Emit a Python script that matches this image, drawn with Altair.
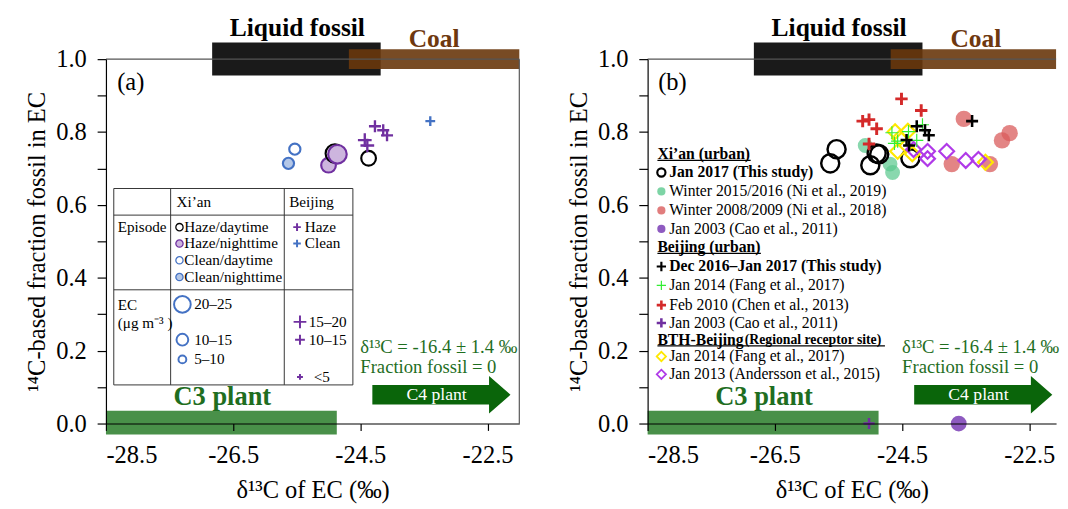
import altair as alt
import pandas as pd

FONT = "Liberation Serif"

# ---------------- data ----------------
# Xi'an, Jan 2017 (this study)
xian17_d13c = [-25.53, -25.63, -25.00, -24.90, -24.86, -24.37]
xian17_fossil = [0.753, 0.714, 0.709, 0.741, 0.739, 0.728]
xian17_episode = ["Clean/daytime", "Clean/nighttime", "Haze/nighttime",
                  "Haze/daytime", "Haze/nighttime", "Haze/daytime"]
xian17_ec = ["5–10", "5–10", "10–15", "20–25", "20–25", "10–15"]

# Beijing, Dec 2016 – Jan 2017 (this study)
bj17_d13c = [-23.40, -24.27, -24.14, -24.08, -24.43, -24.39]
bj17_fossil = [0.830, 0.816, 0.805, 0.791, 0.778, 0.763]
bj17_episode = ["Clean", "Haze", "Haze", "Haze", "Haze", "Haze"]
bj17_ec = ["<5", "10–15", "10–15", "10–15", "15–20", "15–20"]

# literature values (panel b)
ni2019_d13c = [-25.08, -24.69, -24.65]
ni2019_fossil = [0.763, 0.712, 0.689]
ni2018_d13c = [-23.53, -22.81, -22.93, -23.72, -23.12]
ni2018_fossil = [0.836, 0.797, 0.777, 0.712, 0.712]
cao_xian_d13c = [-23.61]
cao_xian_fossil = [0.0]
fang_bj_d13c = [-24.18, -24.40, -24.57, -24.27, -24.66, -24.62]
fang_bj_fossil = [0.820, 0.801, 0.775, 0.777, 0.798, 0.769]
chen_d13c = [-24.51, -24.20, -25.12, -25.02, -24.90, -25.02]
chen_fossil = [0.891, 0.859, 0.830, 0.834, 0.809, 0.767]
cao_bj_d13c = [-25.02]
cao_bj_fossil = [0.0]
fang_bth_d13c = [-24.61, -24.41, -24.54, -24.57, -24.34, -23.19]
fang_bth_fossil = [0.801, 0.802, 0.783, 0.747, 0.740, 0.717]
andersson_d13c = [-24.32, -24.10, -24.10, -23.80, -23.50, -23.30]
andersson_fossil = [0.752, 0.747, 0.727, 0.747, 0.722, 0.725]

# source end-member ranges (δ13C)
liquid_range = [-26.83, -24.18]
coal_start = -24.68
c3_range = [-28.5, -24.87]
c4_arrow_center = -23.225

x_ticks = [-28.5, -26.5, -24.5, -22.5]
y_ticks = [round(i * 0.1, 1) for i in range(11)]

# ---------------- styles ----------------
BLACK = "#000000"
PURPLE = "#7030A0"
PURPLE_FILL = "#CDB5DE"
BLUE = "#4472C4"
BLUE_FILL = "#B4C7E7"
GREEN_DOT = "#5CC98F"
RED_DOT = "#D95C5C"
PURPLE_DOT = "#8E5AC0"
RED_PLUS = "#D42A2A"
GREEN_PLUS = "#33EE33"
YELLOW = "#FFE800"
VIOLET = "#B03AE8"
TEXT_GREEN = "#1F6E1F"
C3_GREEN = "#3A873A"
C4_GREEN = "#0A650A"
COAL = "#69370C"
COAL_TEXT = "#6E380F"

PLUS = "M -1 0 L 1 0 M 0 -1 L 0 1"
ARROW = "M -1 -0.14 L 0.69 -0.14 L 0.69 -0.27 L 1 0 L 0.69 0.27 L 0.69 0.14 L -1 0.14 Z"

circle_size_a = {"20–25": 360, "10–15": 225, "5–10": 130}
plus_size_a = {"15–20": 196, "10–15": 150, "<5": 100}
episode_style = {
    "Haze/daytime": (BLACK, None),
    "Haze/nighttime": (PURPLE, PURPLE_FILL),
    "Clean/daytime": (BLUE, None),
    "Clean/nighttime": (BLUE, BLUE_FILL),
}
bj_color = {"Haze": PURPLE, "Clean": BLUE}

XT = "δ¹³C of EC (‰)"
YT = "¹⁴C-based fraction fossil in EC"

AX_X = alt.Axis(values=x_ticks, labelExpr="'' + datum.value", tickSize=7,
                labelPadding=13, titlePadding=11, zindex=1)
AX_Y = alt.Axis(values=y_ticks, tickSize=9, labelPadding=11, titlePadding=6, zindex=1,
                labelExpr="round(datum.value*10) % 2 == 0 ? format(datum.value, '.1f') : ''")
YS = alt.Scale(domain=[0, 1], nice=False, zero=False)


def X(xmax):
    return alt.X("x:Q", scale=alt.Scale(domain=[-28.5, xmax], nice=False, zero=False),
                 axis=AX_X, title=XT)


def Y():
    return alt.Y("y:Q", scale=YS, axis=AX_Y, title=YT)


def points(xmax, xv, yv, shape, size, stroke, fill=None, sw=2.0, opacity=1.0):
    df = pd.DataFrame({"x": xv, "y": yv})
    props = dict(shape=shape, strokeWidth=sw, opacity=opacity, stroke=stroke)
    if fill is None:
        props.update(filled=False, color=stroke)
    else:
        props.update(filled=True, fill=fill)
    enc = dict(x=X(xmax), y=Y())
    if isinstance(size, list):
        df["s"] = size
        enc["size"] = alt.Size("s:Q", scale=None, legend=None)
    else:
        props["size"] = size
    return alt.Chart(df).mark_point(**props).encode(**enc)


def texts(xmax, xv, yv, labels, size, color=BLACK, weight="normal", align="left"):
    df = pd.DataFrame({"x": xv, "y": yv, "t": labels})
    return alt.Chart(df).mark_text(font=FONT, fontSize=size, color=color, fontWeight=weight,
                                   align=align, baseline="middle").encode(
        x=X(xmax), y=Y(), text="t:N")


def segs(xmax, x1, x2, y1, y2, color="#222222", sw=1.0):
    df = pd.DataFrame({"x": x1, "x2": x2, "y": y1, "y2": y2})
    return alt.Chart(df).mark_rule(color=color, strokeWidth=sw).encode(
        x=X(xmax), x2="x2:Q", y=Y(), y2="y2:Q")


def band(xmax, x1, x2, y1, y2, color, opacity=1.0):
    df = pd.DataFrame({"x": [x1], "x2": [x2], "y": [y1], "y2": [y2]})
    return alt.Chart(df).mark_rect(color=color, opacity=opacity).encode(
        x=X(xmax), x2="x2:Q", y=Y(), y2="y2:Q")


def common_layers(xmax, letter):
    return [
        band(xmax, c3_range[0], c3_range[1], -0.03, 0.035, C3_GREEN, 0.92),
        band(xmax, liquid_range[0], liquid_range[1], 0.955, 1.046, "#1a1a1a"),
        band(xmax, coal_start, xmax, 0.973, 1.027, COAL, 0.9),
        segs(xmax, [-28.5], [xmax], [1.0], [1.0], "#555555", 1.2),
        texts(xmax, [-25.49], [1.086], ["Liquid fossil"], 26, BLACK, "bold", "center"),
        texts(xmax, [-23.34], [1.054], ["Coal"], 26, COAL_TEXT, "bold", "center"),
        texts(xmax, [-26.67], [0.072], ["C3 plant"], 27, TEXT_GREEN, "bold", "center"),
        texts(xmax, [-24.50, -24.50], [0.209, 0.154],
              ["δ¹³C = -16.4 ± 1.4 ‰", "Fraction fossil = 0"], 19, TEXT_GREEN),
        points(xmax, [c4_arrow_center], [0.079], ARROW, 19881, C4_GREEN, C4_GREEN, 0),
        texts(xmax, [-23.30], [0.078], ["C4 plant"], 18, "white", "normal", "center"),
        texts(xmax, [-28.11], [0.938], [f"({letter})"], 25, BLACK, "normal", "center"),
    ]


# ---------------- panel (a) ----------------
XA = -22.0
la = common_layers(XA, "a")
la.append(segs(XA, [XA], [XA], [0.0], [1.0], "#555555", 1.2))

# legend table
tx = [-28.377, -27.483, -25.696, -24.617]
ty = [0.645, 0.572, 0.367, 0.106]
la.append(segs(XA, [tx[0], tx[0], tx[0], tx[0], tx[0], tx[3], tx[1], tx[2]],
               [tx[3], tx[3], tx[3], tx[3], tx[0], tx[3], tx[1], tx[2]],
               [ty[0], ty[1], ty[2], ty[3], ty[3], ty[3], ty[3], ty[3]],
               [ty[0], ty[1], ty[2], ty[3], ty[0], ty[0], ty[0], ty[0]], "#333333", 1.0))
la.append(texts(XA, [-27.391, -25.619, -28.315, -28.315, -28.315],
                [0.607, 0.607, 0.539, 0.324, 0.276],
                ["Xi’an", "Beijing", "Episode", "EC", "(μg m⁻³ )"], 15.5))
ep_names = ["Haze/daytime", "Haze/nighttime", "Clean/daytime", "Clean/nighttime"]
ep_y = [0.539, 0.494, 0.448, 0.402]
for name, yy in zip(ep_names, ep_y):
    st, fi = episode_style[name]
    la.append(points(XA, [-27.344], [yy], "circle", 55, st, fi, 1.3))
la.append(texts(XA, [-27.267] * 4, ep_y, ep_names, 15.5))
la.append(points(XA, [-25.495], [0.539], PLUS, 60, PURPLE, None, 2))
la.append(points(XA, [-25.495], [0.494], PLUS, 60, BLUE, None, 2))
la.append(texts(XA, [-25.372, -25.372], [0.539, 0.494], ["Haze", "Clean"], 15.5))
la.append(points(XA, [-27.298] * 3, [0.327, 0.230, 0.176], "circle", [289, 144, 64], BLUE, None, 2))
la.append(texts(XA, [-27.113] * 3, [0.327, 0.230, 0.176], ["20–25", "10–15", "5–10"], 15.5))
la.append(points(XA, [-25.449] * 3, [0.279, 0.230, 0.128], PLUS, [169, 100, 36], PURPLE, None, 2))
la.append(texts(XA, [-25.311, -25.311, -25.233], [0.279, 0.230, 0.128], ["15–20", "10–15", "<5"], 15.5))

# data (a)
for i in range(len(xian17_d13c)):
    st, fi = episode_style[xian17_episode[i]]
    la.append(points(XA, [xian17_d13c[i]], [xian17_fossil[i]], "circle",
                     circle_size_a[xian17_ec[i]], st, fi, 2.2))
for i in range(len(bj17_d13c)):
    la.append(points(XA, [bj17_d13c[i]], [bj17_fossil[i]], PLUS,
                     plus_size_a[bj17_ec[i]], bj_color[bj17_episode[i]], None, 2.4))

panel_a = alt.layer(*la).properties(width=422, height=372)

# ---------------- panel (b) ----------------
XB = -22.08
lb = common_layers(XB, "b")

lb.append(points(XB, ni2019_d13c, ni2019_fossil, "circle", 230, GREEN_DOT, GREEN_DOT, 0, 0.72))
lb.append(points(XB, ni2018_d13c, ni2018_fossil, "circle", 280, RED_DOT, RED_DOT, 0, 0.75))
lb.append(points(XB, cao_xian_d13c, cao_xian_fossil, "circle", 260, PURPLE_DOT, PURPLE_DOT, 0))
lb.append(points(XB, xian17_d13c, xian17_fossil, "circle", 340, BLACK, None, 2.5))
lb.append(points(XB, fang_bth_d13c, fang_bth_fossil, "diamond", 230, YELLOW, None, 2.2))
lb.append(points(XB, andersson_d13c, andersson_fossil, "diamond", 230, VIOLET, None, 2.2))
lb.append(points(XB, chen_d13c, chen_fossil, PLUS, 160, RED_PLUS, None, 3))
lb.append(points(XB, fang_bj_d13c, fang_bj_fossil, PLUS, 180, GREEN_PLUS, None, 1.2))
lb.append(points(XB, bj17_d13c, bj17_fossil, PLUS, 150, BLACK, None, 2.6))
lb.append(points(XB, cao_bj_d13c, cao_bj_fossil, PLUS, 130, PURPLE, None, 2.6))

# legend (b)
hx = -28.346
sx = -28.284
lx = -28.161
lb.append(texts(XB, [hx, hx, hx], [0.739, 0.485, 0.229],
                ["Xi’an (urban)", "Beijing (urban)", "BTH-Beijing"], 16, BLACK, "bold"))
lb.append(texts(XB, [-26.973], [0.229], ["(Regional receptor site)"], 14, BLACK, "bold"))
lb.append(segs(XB, [hx, hx, hx], [-26.88, -26.72, -24.77], [0.722, 0.467, 0.213],
               [0.722, 0.467, 0.213], BLACK, 1.2))
lb.append(texts(XB, [lx, lx], [0.689, 0.431],
                ["Jan 2017 (This study)", "Dec 2016–Jan 2017 (This study)"], 16, BLACK, "bold"))
lb.append(texts(XB, [lx] * 8, [0.637, 0.585, 0.534, 0.379, 0.325, 0.276, 0.184, 0.135],
                ["Winter 2015/2016 (Ni et al., 2019)", "Winter 2008/2009 (Ni et al., 2018)",
                 "Jan 2003 (Cao et al., 2011)", "Jan 2014 (Fang et al., 2017)",
                 "Feb 2010 (Chen et al., 2013)", "Jan 2003 (Cao et al., 2011)",
                 "Jan 2014 (Fang  et al., 2017)", "Jan 2013 (Andersson et al., 2015)"], 16))
lb.append(points(XB, [sx], [0.689], "circle", 70, BLACK, None, 2.2))
lb.append(points(XB, [sx], [0.637], "circle", 70, GREEN_DOT, GREEN_DOT, 0, 0.8))
lb.append(points(XB, [sx], [0.585], "circle", 70, RED_DOT, RED_DOT, 0, 0.8))
lb.append(points(XB, [sx], [0.534], "circle", 70, PURPLE_DOT, PURPLE_DOT, 0))
lb.append(points(XB, [sx], [0.431], PLUS, 90, BLACK, None, 2.2))
lb.append(points(XB, [sx], [0.379], PLUS, 90, GREEN_PLUS, None, 1.2))
lb.append(points(XB, [sx], [0.325], PLUS, 90, RED_PLUS, None, 2.6))
lb.append(points(XB, [sx], [0.276], PLUS, 90, PURPLE, None, 2.6))
lb.append(points(XB, [sx], [0.184], "diamond", 90, YELLOW, None, 1.8))
lb.append(points(XB, [sx], [0.135], "diamond", 90, VIOLET, None, 1.8))

panel_b = alt.layer(*lb).properties(width=417, height=372)

chart = alt.hconcat(panel_a, panel_b, spacing=47).properties(
    padding={"left": 17, "top": 2, "right": 0, "bottom": 0}
).configure_view(stroke=None).configure_axis(
    labelFont=FONT, titleFont=FONT, labelFontSize=25, titleFontSize=25,
    titleFontWeight="normal", labelColor=BLACK, titleColor=BLACK,
    domainColor=BLACK, tickColor=BLACK, domainWidth=1.2, tickWidth=1.2, grid=False,
)

chart.save("out.html", embed_options={"renderer": "svg", "actions": False})
